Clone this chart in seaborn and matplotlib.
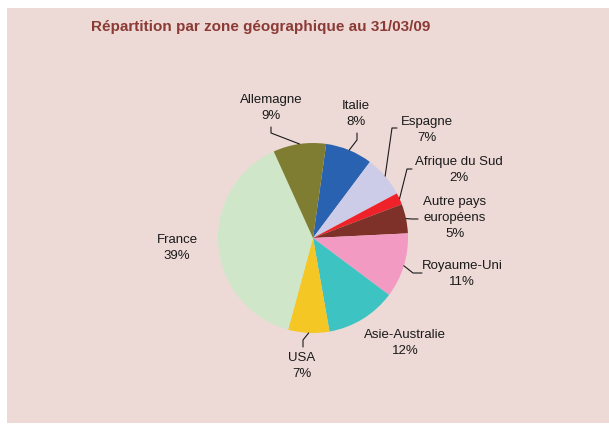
import numpy as np
import matplotlib
matplotlib.use("Agg")
import matplotlib.pyplot as plt
import seaborn as sns
from matplotlib.patches import Rectangle

# data (clockwise from the top)
zones = ["Italie", "Espagne", "Afrique du Sud", "Autre pays\neuropéens",
         "Royaume-Uni", "Asie-Australie", "USA", "France", "Allemagne"]
parts = [8, 7, 2, 5, 11, 12, 7, 39, 9]
couleurs = ["#2862B0", "#CCCCE8", "#EE2228", "#7E3129", "#F29AC2",
            "#3EC3C3", "#F5C724", "#CFE7C8", "#7E7D32"]

sns.set_style("white")
plt.rcParams['font.family'] = ['Liberation Sans', 'DejaVu Sans']

W, H = 609, 425
def px(x, y):
    return (x, H - y)

fig = plt.figure(figsize=(6.09, 4.25), dpi=100, facecolor="white")
ax = fig.add_axes([0, 0, 1, 1])
ax.add_patch(Rectangle((7, 2), W - 7, H - 10, facecolor="#EDDAD6",
                       edgecolor="none", zorder=0))

cx, cy = px(313, 238)
r = 95
wedges, _ = ax.pie(parts, colors=sns.color_palette(couleurs), startangle=82,
                   counterclock=False, radius=r, center=(cx, cy),
                   wedgeprops=dict(linewidth=0))

# label layout: text centre, then leader (elbow, end) in pixels
lab_pos = [(356, 114), (427, 130), (459, 170), (455, 218), (462, 274),
           (405, 343), (302, 366), (177, 248), (271, 108)]
leaders = [((357, 140), (357, 133)), ((392, 128), (397, 128)),
           ((407, 169), (412, 169)), ((412, 219), (418, 219)),
           ((413, 273), (422, 273)), None, ((303, 340), (303, 347)),
           None, ((271, 133), (271, 127))]

for w, name, val, pos, lead in zip(wedges, zones, parts, lab_pos, leaders):
    x, y = px(*pos)
    ax.text(x, y, f"{name}\n{val}%", ha="center", va="center",
            fontsize=9.5, color="#1A1A1A", linespacing=1.45)
    if lead is not None:
        mid = np.deg2rad((w.theta1 + w.theta2) / 2)
        ex, ey = cx + r * np.cos(mid), cy + r * np.sin(mid)
        (bx, by), (tx, ty) = px(*lead[0]), px(*lead[1])
        ax.plot([ex, bx, tx], [ey, by, ty], color="#1A1A1A", lw=0.8)

ax.text(*px(261, 27), "Répartition par zone géographique au 31/03/09",
        ha="center", va="center", fontsize=11, fontweight="bold",
        color="#8B3A35")

ax.set_xlim(0, W)
ax.set_ylim(0, H)
ax.set_aspect("auto")
ax.axis("off")

fig.savefig("out.png", dpi=100, facecolor="white")
